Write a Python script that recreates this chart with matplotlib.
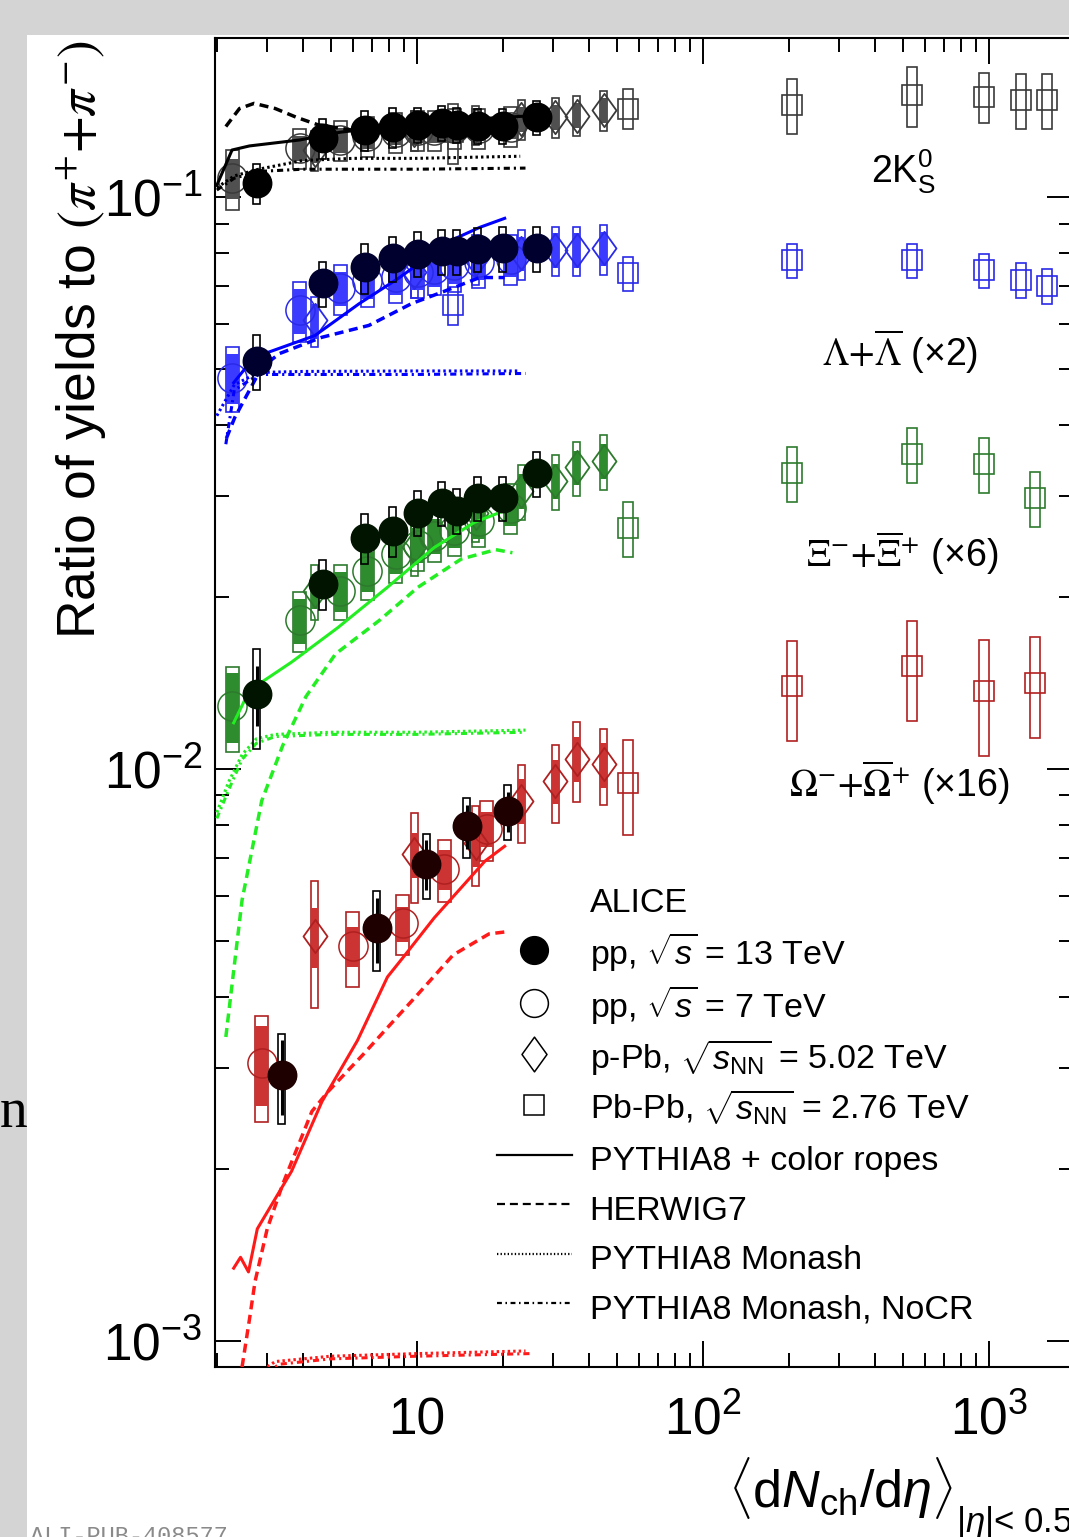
import numpy as np
import matplotlib.pyplot as plt
from matplotlib.patches import Rectangle
from matplotlib.lines import Line2D
from matplotlib.path import Path

plt.rcParams['font.family'] = ['Liberation Sans', 'DejaVu Sans']
plt.rcParams['mathtext.fontset'] = 'custom'
plt.rcParams['mathtext.rm'] = 'Liberation Sans'
plt.rcParams['mathtext.it'] = 'Liberation Sans:italic'
plt.rcParams['mathtext.bf'] = 'Liberation Sans:bold'

# multiplicity classes <dNch/deta>
pp13_dndeta = [2.76, 4.69, 6.58, 8.24, 10.08, 12.23, 13.8, 16.35, 19.98, 26.28]
pp7_dndeta = [2.26, 3.90, 5.40, 6.72, 8.45, 10.1, 11.5, 13.5, 16.5, 21.3]
ppb_dndeta = [4.4, 9.8, 16.1, 23.2, 30.5, 36.2, 45.0]
pbpb_dndeta = [13.4, 55, 205, 537, 966, 1294, 1601]
pbpb_dndeta_mb = [55, 205, 537, 966, 1448]
om_pp13_dndeta = [3.37, 7.25, 10.8, 14.95, 20.8]
om_pp7_dndeta = [2.87, 5.97, 8.93, 12.5, 17.6]

# 2K0S / (pi+ + pi-)
k0s_pp13 = [0.106, 0.127, 0.131, 0.1326, 0.1337, 0.1348, 0.134, 0.1335, 0.1335, 0.138]
k0s_pp13_sys = [0.08, 0.08, 0.08, 0.08, 0.07, 0.07, 0.07, 0.07, 0.07, 0.07]
k0s_pp13_stat = [0.02] * 10
k0s_pp7 = [0.108, 0.122, 0.126, 0.128, 0.130, 0.131, 0.131, 0.132, 0.132, 0.133]
k0s_pp7_sys = [0.12, 0.08, 0.08, 0.08, 0.08, 0.08, 0.08, 0.08, 0.08, 0.08]
k0s_pp7_unc = [0.08, 0.05, 0.05, 0.05, 0.05, 0.05, 0.05, 0.05, 0.05, 0.05]
k0s_ppb = [0.121, 0.131, 0.134, 0.137, 0.138, 0.139, 0.142]
k0s_ppb_sys = [0.08] * 7
k0s_ppb_unc = [0.05] * 7
k0s_pbpb = [0.130, 0.143, 0.145, 0.151, 0.1497, 0.148, 0.148]
k0s_pbpb_sys = [0.12, 0.08, 0.11, 0.12, 0.10, 0.11, 0.11]

# (Lambda + anti-Lambda) x 2
lam_pp13 = [0.0518, 0.0707, 0.0754, 0.0782, 0.0797, 0.0805, 0.0805, 0.0812, 0.0814, 0.0815]
lam_pp13_sys = [0.11, 0.09, 0.10, 0.09, 0.09, 0.09, 0.09, 0.09, 0.09, 0.09]
lam_pp13_stat = [0.03] * 10
lam_pp7 = [0.0484, 0.0634, 0.0693, 0.0715, 0.0725, 0.074, 0.075, 0.076, 0.077, 0.078]
lam_pp7_sys = [0.13, 0.12, 0.10, 0.10, 0.10, 0.10, 0.10, 0.10, 0.10, 0.10]
lam_pp7_unc = [0.10, 0.09, 0.07, 0.07, 0.07, 0.07, 0.07, 0.07, 0.07, 0.07]
lam_ppb = [0.0609, 0.074, 0.078, 0.0798, 0.0808, 0.0808, 0.0814]
lam_ppb_sys = [0.10] * 7
lam_ppb_unc = [0.07] * 7
lam_pbpb = [0.0647, 0.0736, 0.0776, 0.0776, 0.0745, 0.0716, 0.0701]
lam_pbpb_sys = [0.075, 0.07, 0.07, 0.07, 0.07, 0.07, 0.07]

# (Xi- + anti-Xi+) x 6
xi_pp13 = [0.01353, 0.0211, 0.0254, 0.0261, 0.0281, 0.0292, 0.0283, 0.0298, 0.0298, 0.0329]
xi_pp13_sys = [0.20, 0.10, 0.10, 0.10, 0.09, 0.09, 0.09, 0.09, 0.09, 0.09]
xi_pp13_stat = [0.12, 0.05, 0.04, 0.04, 0.03, 0.03, 0.03, 0.03, 0.03, 0.03]
xi_pp7 = [0.0129, 0.0182, 0.0205, 0.0222, 0.0238, 0.0247, 0.0256, 0.0262, 0.0272, 0.0286]
xi_pp7_sys = [0.17, 0.12, 0.11, 0.11, 0.11, 0.10, 0.10, 0.10, 0.10, 0.10]
xi_pp7_unc = [0.14, 0.09, 0.08, 0.08, 0.08, 0.07, 0.07, 0.07, 0.07, 0.07]
xi_ppb = [0.0205, 0.0245, 0.0280, 0.0307, 0.0319, 0.0337, 0.0346]
xi_ppb_sys = [0.11] * 7
xi_ppb_unc = [0.07] * 7
xi_pbpb = [0.0264, 0.0329, 0.0356, 0.0342, 0.0298]
xi_pbpb_sys = [0.11] * 5

# (Omega- + anti-Omega+) x 16
om_pp13 = [0.00292, 0.00527, 0.00682, 0.00795, 0.00844]
om_pp13_sys = [0.18, 0.16, 0.13, 0.12, 0.11]
om_pp13_stat = [0.15, 0.13, 0.10, 0.09, 0.08]
om_pp7 = [0.00306, 0.0049, 0.00537, 0.00668, 0.00785]
om_pp7_sys = [0.21, 0.15, 0.12, 0.125, 0.12]
om_pp7_unc = [0.16, 0.08, 0.07, 0.08, 0.07]
om_ppb = [0.0051, 0.0071, 0.00742, 0.0088, 0.00953, 0.01042, 0.0102]
om_ppb_sys = [0.25, 0.18, 0.16, 0.155, 0.155, 0.16, 0.15]
om_ppb_unc = [0.12, 0.09, 0.09, 0.09, 0.09, 0.09, 0.09]
om_pbpb = [0.00945, 0.01398, 0.01516, 0.0137, 0.01416]
om_pbpb_sys = [0.19, 0.20, 0.20, 0.23, 0.20]

# model curves
k0s_rope_x = [2.0, 2.26, 2.6, 3.9, 5.4, 8.0, 12.0, 20.0, 26.0]
k0s_rope_y = [0.105, 0.121, 0.123, 0.126, 0.130, 0.133, 0.136, 0.138, 0.139]
k0s_herwig_x = [2.15, 2.4, 2.7, 3.2, 3.8, 4.5, 6.0, 10.0, 15.0, 20.0]
k0s_herwig_y = [0.133, 0.143, 0.146, 0.143, 0.138, 0.134, 0.131, 0.131, 0.132, 0.133]
k0s_monash_x = [2.0, 2.3, 2.8, 4.0, 6.0, 10.0, 23.0]
k0s_monash_y = [0.104, 0.109, 0.112, 0.116, 0.117, 0.117, 0.118]
k0s_nocr_x = [2.0, 2.3, 2.8, 4.0, 10.0, 24.0]
k0s_nocr_y = [0.103, 0.108, 0.111, 0.112, 0.112, 0.1125]

lam_rope_x = [2.29, 2.7, 4.4, 6.3, 8.6, 13.2, 16.6, 20.3]
lam_rope_y = [0.0474, 0.0525, 0.0573, 0.0652, 0.0721, 0.0841, 0.0886, 0.0919]
lam_herwig_x = [2.16, 2.31, 2.87, 3.31, 4.65, 6.8, 9.6, 12.2, 16.6, 20.3]
lam_herwig_y = [0.0379, 0.0412, 0.0504, 0.0533, 0.0569, 0.0597, 0.0652, 0.0682, 0.0724, 0.0724]
lam_monash_x = [2.0, 2.3, 2.8, 4.0, 10.0, 23.0]
lam_monash_y = [0.0415, 0.047, 0.0494, 0.0496, 0.0497, 0.0497]
lam_nocr_x = [2.15, 2.3, 2.8, 4.0, 10.0, 24.0]
lam_nocr_y = [0.037, 0.046, 0.049, 0.049, 0.049, 0.0492]

xi_rope_x = [2.29, 2.6, 3.66, 5.3, 7.9, 11.5, 15.9, 21.3]
xi_rope_y = [0.01205, 0.01373, 0.0154, 0.01768, 0.0208, 0.0244, 0.027, 0.0286]
xi_herwig_x = [2.15, 2.45, 2.87, 3.4, 4.1, 5.2, 7.4, 10.1, 14.3, 18.9, 21.6]
xi_herwig_y = [0.0034, 0.0059, 0.0088, 0.0110, 0.0134, 0.0159, 0.0182, 0.0208, 0.0233, 0.0242, 0.0239]
xi_monash_x = [2.0, 2.2, 2.45, 2.75, 3.2, 5.0, 10.0, 24.0]
xi_monash_y = [0.0084, 0.0095, 0.0106, 0.0113, 0.0115, 0.0116, 0.0116, 0.0117]
xi_nocr_x = [2.0, 2.2, 2.45, 2.75, 3.2, 5.0, 10.0, 24.0]
xi_nocr_y = [0.0082, 0.0092, 0.0104, 0.0111, 0.0114, 0.0115, 0.0115, 0.0116]

om_rope_x = [2.29, 2.42, 2.58, 2.77, 3.65, 4.66, 6.2, 7.9, 9.1, 11.5, 17.3, 20.3]
om_rope_y = [0.00134, 0.00140, 0.00132, 0.00157, 0.00198, 0.00262, 0.00335, 0.00433,
             0.00473, 0.00549, 0.00690, 0.00733]
om_herwig_x = [2.45, 2.6, 2.72, 3.0, 3.4, 4.3, 4.9, 6.5, 7.9, 10.1, 13.4, 17.9, 21.0]
om_herwig_y = [0.0009, 0.00109, 0.00127, 0.00157, 0.00188, 0.00252, 0.00273, 0.00317,
               0.00353, 0.00404, 0.00473, 0.00515, 0.0052]
om_monash_x = [2.9, 3.2, 5.0, 10.0, 24.0]
om_monash_y = [0.00089, 0.00092, 0.00094, 0.00095, 0.00096]
om_nocr_x = [3.0, 3.3, 5.0, 10.0, 25.0]
om_nocr_y = [0.00088, 0.00091, 0.00093, 0.00094, 0.00095]

legend_labels = ['ALICE',
                 r'pp, $\sqrt{s}$ = 13 TeV',
                 r'pp, $\sqrt{s}$ = 7 TeV',
                 r'p-Pb, $\sqrt{s_{\rm NN}}$ = 5.02 TeV',
                 r'Pb-Pb, $\sqrt{s_{\rm NN}}$ = 2.76 TeV',
                 'PYTHIA8 + color ropes',
                 'HERWIG7',
                 'PYTHIA8 Monash',
                 'PYTHIA8 Monash, NoCR']

# line styles of the models
HERWIG_LS = (0, (2.6, 1.6))
MONASH_LS = (0, (0.8, 1.0))
NOCR_LS = (0, (2.0, 1.3, 0.7, 1.3))

fig = plt.figure(figsize=(10.69, 15.37), dpi=100, facecolor='#d4d4d4')
fig.add_artist(Rectangle((0.0253, 0), 1.0, 0.9772, transform=fig.transFigure,
                         facecolor='white', edgecolor='none', zorder=-5))

ax = fig.add_axes([0.2011, 0.1106, 0.8026, 0.8647])
ax.set_xscale('log')
ax.set_yscale('log')
ax.set_xlim(1.97, 1970)
ax.set_ylim(9e-4, 0.19)

# pixels per decade along x, to size the error boxes
DEC_PX = 0.8026 * 10.69 * 100 / 3.0

diamond = Path([(0, 1), (0.72, 0), (0, -1), (-0.72, 0), (0, 1)],
               [Path.MOVETO, Path.LINETO, Path.LINETO, Path.LINETO, Path.CLOSEPOLY])


def boxes(xs, ys, rel, half_px, edge='none', face='none', lw=1.2, z=2):
    f = 10 ** (half_px / DEC_PX)
    for x, y, r in zip(xs, ys, rel):
        ax.add_patch(Rectangle((x / f, y * (1 - r)), x * f - x / f, 2 * y * r,
                               facecolor=face, edgecolor=edge, lw=lw, zorder=z))


def draw_species(pp13, pp13_sys, pp13_stat, pp7, pp7_sys, pp7_unc,
                 ppb, ppb_sys, ppb_unc, pbpb, pbpb_sys, models,
                 dark, mark, fill, line,
                 pp13_x=pp13_dndeta, pp7_x=pp7_dndeta, pbpb_x=pbpb_dndeta):
    # Pb-Pb
    boxes(pbpb_x, pbpb, pbpb_sys, 5, edge=mark, z=2)
    ax.plot(pbpb_x, pbpb, ls='none', marker='s', ms=15, mfc='none', mec=mark,
            mew=1.2, zorder=2.5)
    # p-Pb
    boxes(ppb_dndeta, ppb, ppb_sys, 3.5, edge=mark, z=2)
    boxes(ppb_dndeta, ppb, ppb_unc, 3.5, face=fill, z=2.1)
    ax.plot(ppb_dndeta, ppb, ls='none', marker=diamond, ms=24, mfc='none', mec=mark,
            mew=1.3, zorder=2.5)
    # pp 7 TeV
    boxes(pp7_x, pp7, pp7_sys, 6.5, edge=mark, z=2)
    boxes(pp7_x, pp7, pp7_unc, 6.5, face=fill, z=2.1)
    ax.plot(pp7_x, pp7, ls='none', marker='o', ms=21, mfc='none', mec=mark,
            mew=1.1, zorder=2.5)
    # models
    rope, herwig, monash, nocr = models
    ax.plot(*rope, color=line, lw=2.2, zorder=4)
    ax.plot(*herwig, color=line, lw=2.5, ls=HERWIG_LS, zorder=4)
    ax.plot(*monash, color=line, lw=2.2, ls=MONASH_LS, zorder=4)
    ax.plot(*nocr, color=line, lw=2.2, ls=NOCR_LS, zorder=4)
    # pp 13 TeV
    boxes(pp13_x, pp13, pp13_sys, 3.5, edge='black', z=4.5)
    y13 = np.array(pp13)
    s13 = np.array(pp13_stat)
    ax.vlines(pp13_x, y13 * (1 - s13), y13 * (1 + s13), color='black', lw=2.2, zorder=4.6)
    ax.plot(pp13_x, pp13, ls='none', marker='o', ms=20.5, mfc=dark, mec=dark, zorder=5)


draw_species(k0s_pp13, k0s_pp13_sys, k0s_pp13_stat, k0s_pp7, k0s_pp7_sys, k0s_pp7_unc,
             k0s_ppb, k0s_ppb_sys, k0s_ppb_unc, k0s_pbpb, k0s_pbpb_sys,
             [(k0s_rope_x, k0s_rope_y), (k0s_herwig_x, k0s_herwig_y),
              (k0s_monash_x, k0s_monash_y), (k0s_nocr_x, k0s_nocr_y)],
             dark='black', mark='#3a3a3a', fill='#505050', line='black')
draw_species(lam_pp13, lam_pp13_sys, lam_pp13_stat, lam_pp7, lam_pp7_sys, lam_pp7_unc,
             lam_ppb, lam_ppb_sys, lam_ppb_unc, lam_pbpb, lam_pbpb_sys,
             [(lam_rope_x, lam_rope_y), (lam_herwig_x, lam_herwig_y),
              (lam_monash_x, lam_monash_y), (lam_nocr_x, lam_nocr_y)],
             dark='#00002e', mark='#2a2ae8', fill='#3b3bff', line='#0000ff')
draw_species(xi_pp13, xi_pp13_sys, xi_pp13_stat, xi_pp7, xi_pp7_sys, xi_pp7_unc,
             xi_ppb, xi_ppb_sys, xi_ppb_unc, xi_pbpb, xi_pbpb_sys,
             [(xi_rope_x, xi_rope_y), (xi_herwig_x, xi_herwig_y),
              (xi_monash_x, xi_monash_y), (xi_nocr_x, xi_nocr_y)],
             dark='#001400', mark='#2d7a2d', fill='#2e8b2e', line='#22ee22',
             pbpb_x=pbpb_dndeta_mb)
draw_species(om_pp13, om_pp13_sys, om_pp13_stat, om_pp7, om_pp7_sys, om_pp7_unc,
             om_ppb, om_ppb_sys, om_ppb_unc, om_pbpb, om_pbpb_sys,
             [(om_rope_x, om_rope_y), (om_herwig_x, om_herwig_y),
              (om_monash_x, om_monash_y), (om_nocr_x, om_nocr_y)],
             dark='#1e0000', mark='#b02020', fill='#cc3333', line='#ff1a1a',
             pp13_x=om_pp13_dndeta, pp7_x=om_pp7_dndeta, pbpb_x=pbpb_dndeta_mb)

# axes and ticks
ax.set_xticks([10, 100, 1000])
ax.set_xticklabels(['10', r'$10^{2}$', r'$10^{3}$'])
ax.set_yticks([1e-3, 1e-2, 1e-1])
ax.set_yticklabels([r'$10^{-3}$', r'$10^{-2}$', r'$10^{-1}$'])
ax.xaxis.set_minor_formatter(plt.NullFormatter())
ax.yaxis.set_minor_formatter(plt.NullFormatter())
ax.tick_params(which='both', direction='in', top=True, right=True, width=1.4)
ax.tick_params(which='major', length=19, labelsize=37)
ax.tick_params(which='minor', length=10)
ax.tick_params(axis='x', which='major', pad=21)
ax.tick_params(axis='y', which='major', pad=9)
for sp in ax.spines.values():
    sp.set_linewidth(1.5)

# species labels
ax.text(0.802, 0.899, r'2K$^{0}_{\rm S}$', transform=ax.transAxes, fontsize=27,
        ha='center', va='center')
ax.text(0.798, 0.7637, r'$\Lambda{+}\overline{\Lambda}$ (×2)', transform=ax.transAxes,
        fontsize=27, ha='center', va='center', math_fontfamily='stix')
ax.text(0.8007, 0.6125, r'$\Xi^{-}{+}\overline{\Xi}^{+}$ (×6)', transform=ax.transAxes,
        fontsize=27, ha='center', va='center', math_fontfamily='stix')
ax.text(0.798, 0.4394, r'$\Omega^{-}{+}\overline{\Omega}^{+}$ (×16)', transform=ax.transAxes,
        fontsize=27, ha='center', va='center', math_fontfamily='stix')

# legend
handles = [Line2D([], [], ls='none'),
           Line2D([], [], ls='none', marker='o', ms=20, mfc='black', mec='black'),
           Line2D([], [], ls='none', marker='o', ms=20, mfc='none', mec='black', mew=1.1),
           Line2D([], [], ls='none', marker=diamond, ms=25, mfc='none', mec='black', mew=1.1),
           Line2D([], [], ls='none', marker='s', ms=15, mfc='none', mec='black', mew=1.1),
           Line2D([], [], color='black', lw=1.6),
           Line2D([], [], color='black', lw=1.6, ls=(0, (3.6, 2.2))),
           Line2D([], [], color='black', lw=1.6, ls=(0, (0.6, 1.0))),
           Line2D([], [], color='black', lw=1.6, ls=(0, (2.2, 1.6, 0.7, 1.6)))]
ax.legend(handles, legend_labels, loc='upper left', bbox_to_anchor=(0.3287, 0.3653),
          frameon=False, fontsize=24.5, handlelength=2.2, handletextpad=0.52,
          handleheight=1.4, labelspacing=0.3, borderpad=0, borderaxespad=0)

# axis titles
fig.text(81 / 1069, 1 - 340 / 1537, r'Ratio of yields to $(\pi^{+}{+}\pi^{-})$',
         rotation=90, fontsize=38.5, ha='center', va='center', math_fontfamily='stix')
fig.text(728 / 1069, 1 - 1507 / 1537,
         r'$\langle{\rm d}N_{\rm ch}/{\rm d}\eta\rangle$',
         fontsize=37.5, ha='left', va='baseline')
fig.text(956 / 1069, 1 - 1532 / 1537, r'$|\eta|$< 0.5',
         fontsize=25, ha='left', va='baseline')

# bits of the slide around the figure
fig.text(0.0, 1 - 1127 / 1537, 'n', fontsize=40, family='Liberation Serif', ha='left',
         va='baseline')
fig.text(30 / 1069, -0.004, 'ALI-PUB-408577', fontsize=17, family='Liberation Mono',
         color='#8a8a8a', ha='left', va='baseline')

fig.savefig('out.png', dpi=100, facecolor=fig.get_facecolor())
